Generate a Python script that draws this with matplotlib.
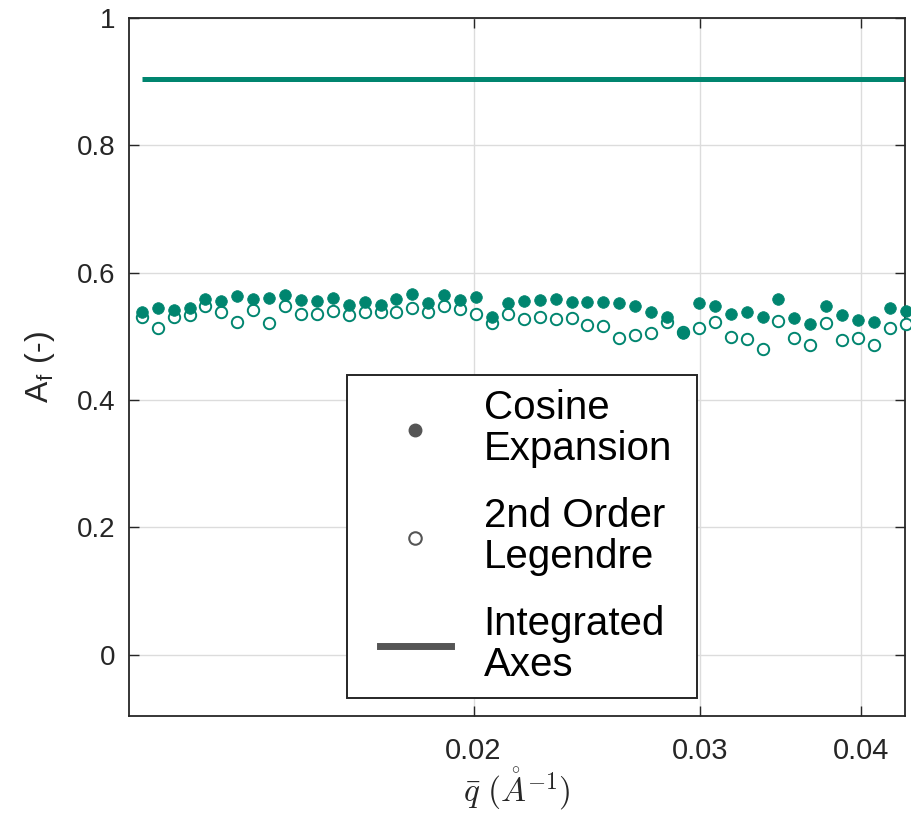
import matplotlib
matplotlib.use("Agg")
import matplotlib.pyplot as plt
from matplotlib.lines import Line2D
from matplotlib.legend_handler import HandlerLine2D
from matplotlib import font_manager

plt.rcParams['font.family'] = ['Liberation Sans', 'DejaVu Sans']
plt.rcParams['mathtext.fontset'] = 'cm'

# q-bar grid (1/Angstrom)
q = [0.011050, 0.011369, 0.011697, 0.012035, 0.012382, 0.012740, 0.013108,
     0.013486, 0.013876, 0.014276, 0.014689, 0.015113, 0.015549, 0.015998,
     0.016460, 0.016935, 0.017424, 0.017927, 0.018445, 0.018977, 0.019525,
     0.020089, 0.020669, 0.021266, 0.021880, 0.022512, 0.023161, 0.023830,
     0.024518, 0.025226, 0.025954, 0.026703, 0.027474, 0.028268, 0.029084,
     0.029923, 0.030787, 0.031676, 0.032591, 0.033532, 0.034500, 0.035496,
     0.036521, 0.037575, 0.038660, 0.039776, 0.040925, 0.042106, 0.043322]

# anisotropy factor from the cosine expansion
af_cosine = [0.538, 0.545, 0.541, 0.544, 0.558, 0.555, 0.564, 0.558, 0.560,
             0.565, 0.557, 0.555, 0.560, 0.549, 0.554, 0.549, 0.558, 0.566,
             0.552, 0.565, 0.557, 0.562, 0.531, 0.553, 0.555, 0.557, 0.559,
             0.554, 0.554, 0.554, 0.553, 0.548, 0.539, 0.530, 0.506, 0.552,
             0.547, 0.535, 0.538, 0.531, 0.558, 0.529, 0.520, 0.548, 0.534,
             0.526, 0.522, 0.545, 0.540]

# anisotropy factor from the 2nd order Legendre fit
af_legendre = [0.531, 0.514, 0.530, 0.534, 0.547, 0.538, 0.522, 0.541, 0.521,
               0.547, 0.535, 0.535, 0.540, 0.533, 0.538, 0.539, 0.538, 0.544,
               0.539, 0.547, 0.543, 0.536, 0.521, 0.535, 0.527, 0.531, 0.527,
               0.529, 0.518, 0.517, 0.498, 0.502, 0.505, 0.522, 0.507, 0.513,
               0.522, 0.499, 0.496, 0.480, 0.524, 0.498, 0.487, 0.521, 0.495,
               0.498, 0.487, 0.513, 0.519]

# anisotropy factor from the integrated axes
af_integrated = 0.905

x_ticks = [0.02, 0.03, 0.04]
x_ticklabels = ['0.02', '0.03', '0.04']
y_ticks = [0, 0.2, 0.4, 0.6, 0.8, 1]
y_ticklabels = ['0', '0.2', '0.4', '0.6', '0.8', '1']

teal = '#00856f'
grey = '#555555'
dark = '#262626'

fig = plt.figure(figsize=(9.12, 8.15), dpi=100)
ax = fig.add_axes([0.1414, 0.1215, 0.8509, 0.8564])

ax.plot([q[0], q[-1]], [af_integrated, af_integrated], color=teal, lw=3.6,
        solid_capstyle='butt', zorder=2)
ax.plot(q, af_legendre, 'o', ms=8.2, mfc='white', mec=teal, mew=1.4,
        zorder=3, clip_on=False)
ax.plot(q, af_cosine, 'o', ms=8.4, mfc=teal, mec=teal, mew=0.5,
        zorder=4, clip_on=False)

ax.set_xscale('log')
ax.set_xlim(0.0108, 0.04326)
ax.set_ylim(-0.096, 1.0)
ax.set_xticks(x_ticks)
ax.set_xticklabels(x_ticklabels)
ax.xaxis.set_minor_locator(matplotlib.ticker.NullLocator())
ax.set_yticks(y_ticks)
ax.set_yticklabels(y_ticklabels)

ax.grid(True, color='#dcdcdc', lw=1.0)
ax.set_axisbelow(True)
for s in ax.spines.values():
    s.set_color(dark)
    s.set_linewidth(1.3)
ax.tick_params(axis='y', direction='in', length=7, width=1.0, colors=dark,
               right=True, pad=10)
ax.tick_params(axis='x', direction='in', length=7, width=1.0, colors=dark,
               top=True, pad=15)

narrow = None
for f in font_manager.fontManager.ttflist:
    if 'Narrow' in f.name and 'Liberation' in f.name:
        narrow = f.name
        break
for lab in ax.get_yticklabels():
    lab.set_fontsize(20)
    lab.set_color(dark)
for lab in ax.get_xticklabels():
    if narrow:
        lab.set_family([narrow, 'Liberation Sans'])
        lab.set_fontsize(24)
    else:
        lab.set_fontsize(21)
    lab.set_color(dark)

ax.set_xlabel(r'$\bar{q}\ (\mathring{A}^{-1})$', fontsize=24, color=dark,
              labelpad=0)
ax.set_ylabel(r'A$_\mathregular{f}$ (-)', fontsize=23, color=dark,
              labelpad=14)

handles = [
    Line2D([], [], ls='none', marker='o', ms=9, mfc=grey, mec=grey),
    Line2D([], [], ls='none', marker='o', ms=9, mfc='white', mec=grey, mew=1.5),
    Line2D([], [], color=grey, lw=5),
]
labels = ['Cosine\nExpansion', '2nd Order\nLegendre', 'Integrated\nAxes']
leg = ax.legend(handles, labels, loc='upper left', mode='expand',
                bbox_to_anchor=(0.281, 0.0258, 0.451, 0.4627),
                fontsize=29, frameon=True,
                fancybox=False, edgecolor=dark, framealpha=1,
                handlelength=2.22, handletextpad=0.82, borderpad=0.35,
                labelspacing=0.72, borderaxespad=0,
                handler_map={Line2D: HandlerLine2D(xpad=0.47)})
leg.get_frame().set_linewidth(1.4)
for t in leg.get_texts():
    t.set_linespacing(1.1)

fig.savefig('out.png', dpi=100)
